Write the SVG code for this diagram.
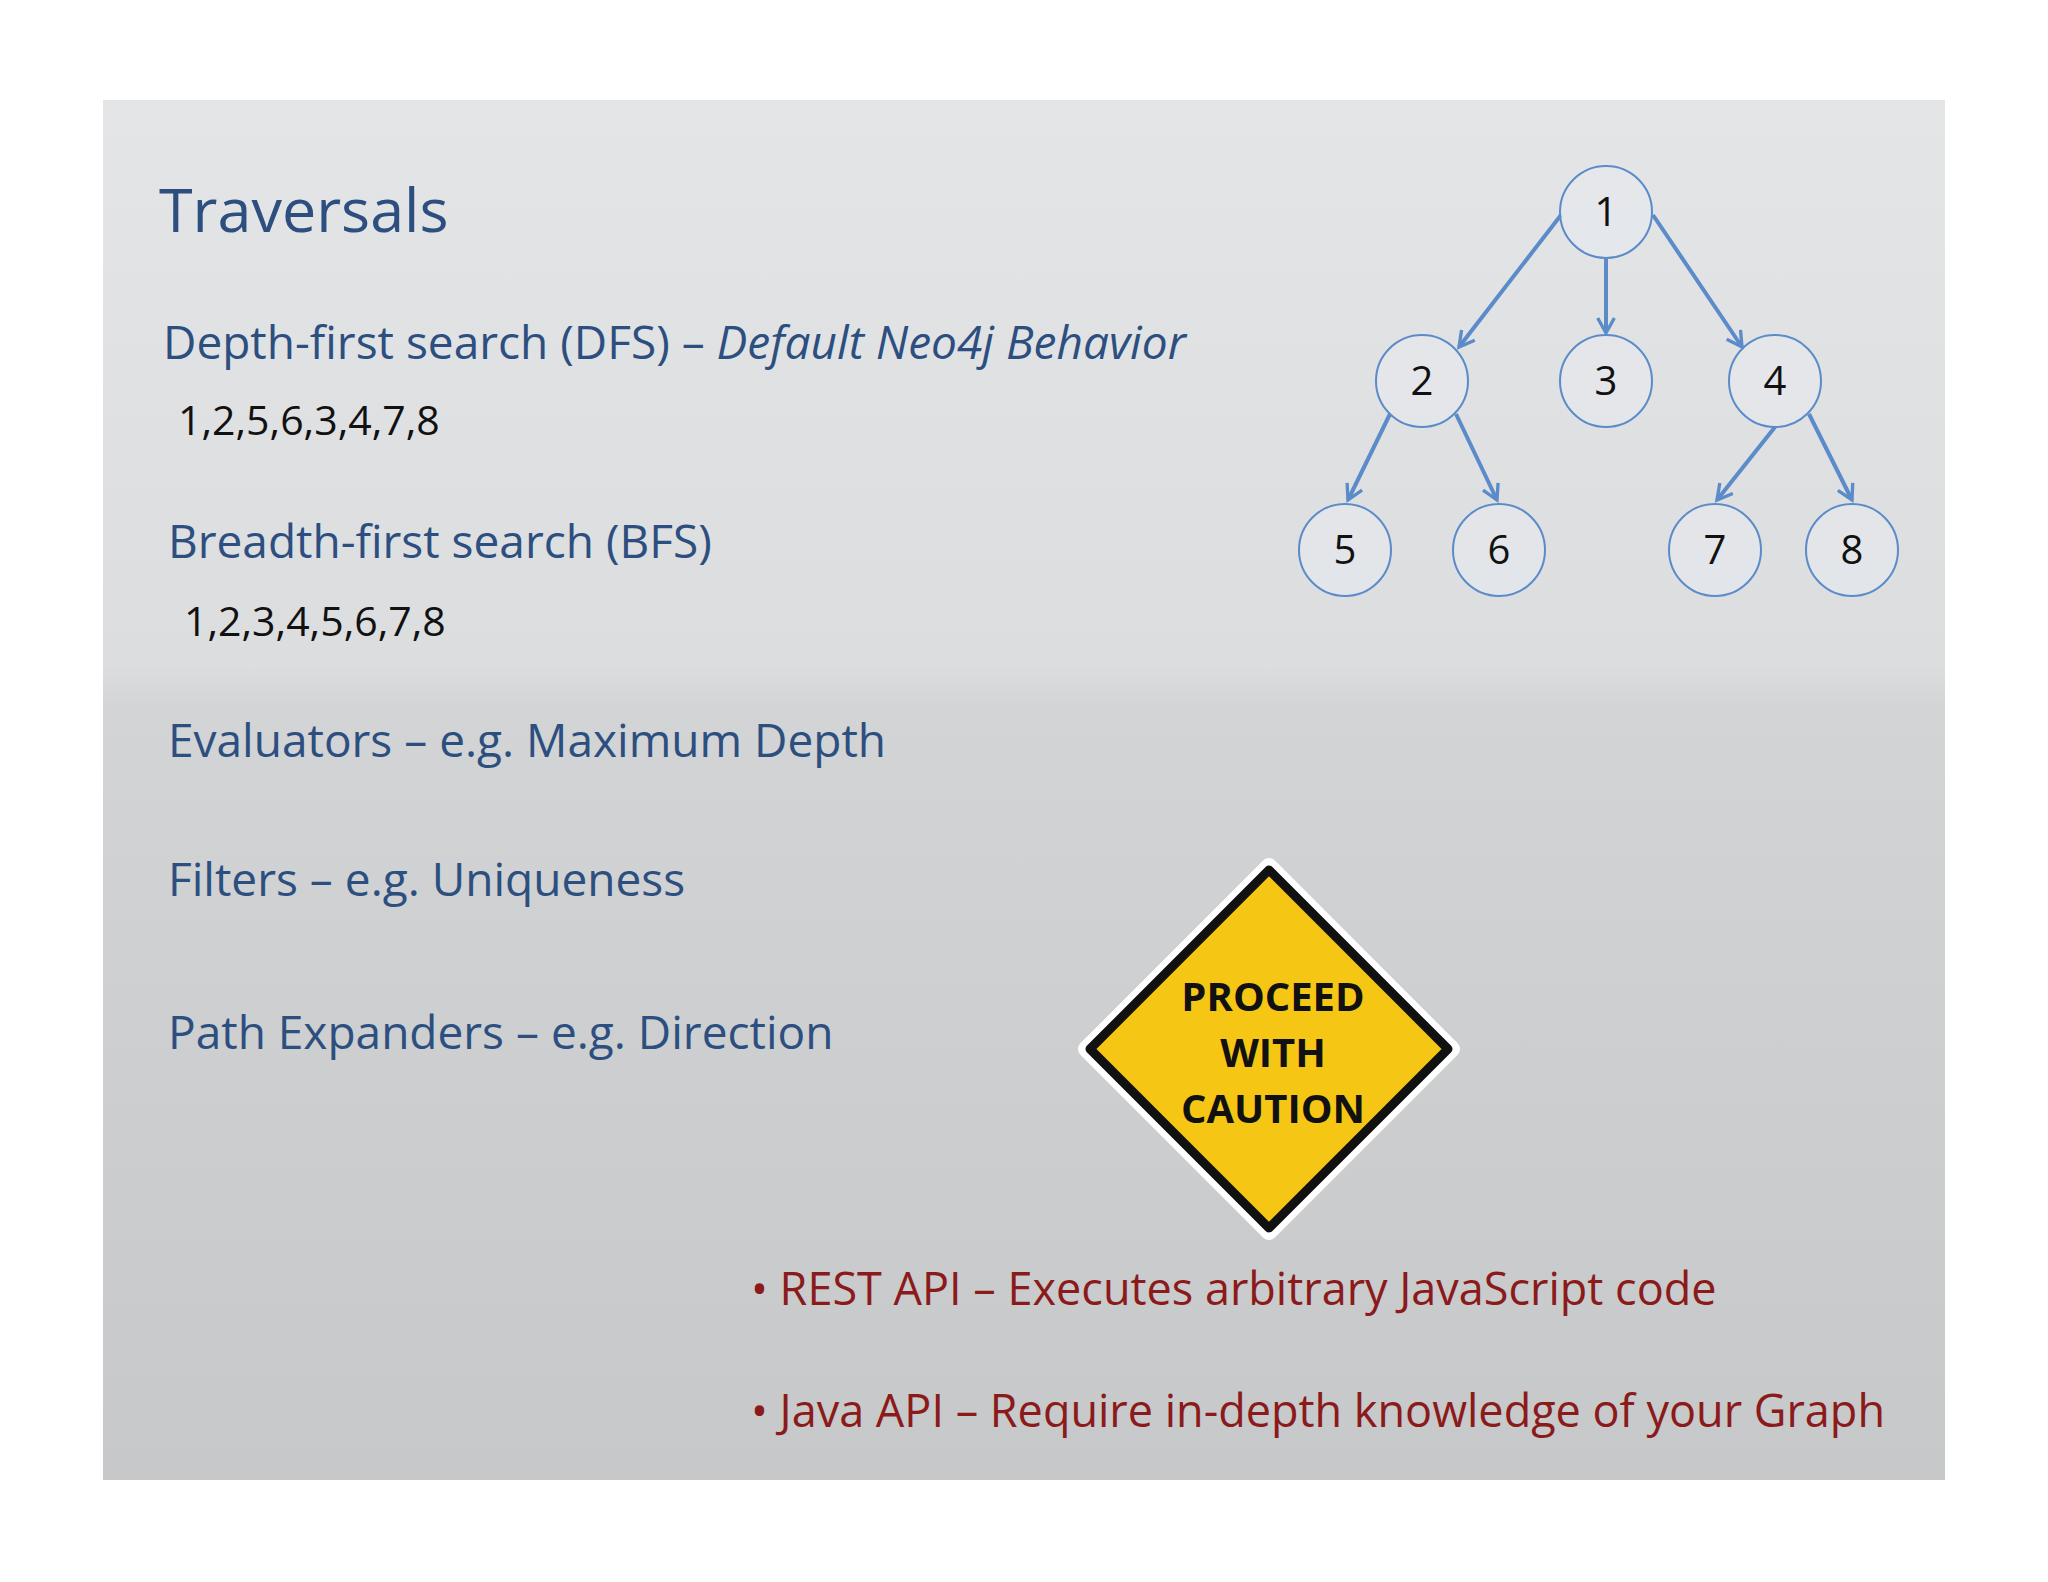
<svg xmlns="http://www.w3.org/2000/svg" width="2048" height="1582" viewBox="0 0 2048 1582">
<defs>
<linearGradient id="bg" x1="0" y1="0" x2="0" y2="1">
<stop offset="0" stop-color="#e4e5e7"/>
<stop offset="0.41" stop-color="#dcdddf"/>
<stop offset="0.44" stop-color="#d2d4d6"/>
<stop offset="0.75" stop-color="#cbcdcf"/>
<stop offset="1" stop-color="#c6c8ca"/>
</linearGradient>
<marker id="ah" viewBox="0 0 12 12" refX="10" refY="6" markerWidth="5" markerHeight="5" orient="auto" markerUnits="strokeWidth">
<path d="M1,1 L10,6 L1,11" fill="none" stroke="#5b8bc9" stroke-width="2"/>
</marker>
<style>
.t{font-family:"Open Sans","Liberation Sans",sans-serif;fill:#2c4f80;font-size:46px}
.k{font-family:"Open Sans","Liberation Sans",sans-serif;fill:#111;font-size:41px}
.r{font-family:"Open Sans","Liberation Sans",sans-serif;fill:#8b1a1a;font-size:45px}
.n circle{fill:#e6e9ee;fill-opacity:0.6;stroke:#5b8bc9;stroke-width:2}
.n text{font-family:"Open Sans","Liberation Sans",sans-serif;font-size:40px;fill:#111;text-anchor:middle}
.e line{stroke:#5b8bc9;stroke-width:4;marker-end:url(#ah)}
.s{font-family:"Open Sans","Liberation Sans",sans-serif;font-weight:bold;font-size:40px;fill:#111;text-anchor:middle}
</style>
</defs>
<rect width="2048" height="1582" fill="#fff"/>
<rect x="103" y="100" width="1842" height="1380" fill="url(#bg)"/>
<text x="159" y="232" class="t" style="font-size:61px">Traversals</text>
<text x="163" y="359" class="t">Depth-first search (DFS) – <tspan font-style="italic">Default Neo4j Behavior</tspan></text>
<text x="178" y="435" class="k">1,2,5,6,3,4,7,8</text>
<text x="168" y="558" class="t">Breadth-first search (BFS)</text>
<text x="184" y="636" class="k">1,2,3,4,5,6,7,8</text>
<text x="168" y="757" class="t">Evaluators – e.g. Maximum Depth</text>
<text x="168" y="896" class="t">Filters – e.g. Uniqueness</text>
<text x="168" y="1049" class="t">Path Expanders – e.g. Direction</text>
<g id="connectors" class="e">
<line x1="1561" y1="215" x2="1459" y2="347"/>
<line x1="1606" y1="258" x2="1606" y2="333"/>
<line x1="1653" y1="215" x2="1742" y2="347"/>
<line x1="1390" y1="414" x2="1348" y2="500"/>
<line x1="1456" y1="414" x2="1497" y2="500"/>
<line x1="1775" y1="427" x2="1717" y2="500"/>
<line x1="1809" y1="414" x2="1852" y2="500"/>
</g>
<g id="n1" class="n"><circle cx="1606" cy="212" r="46"/><text x="1606" y="226">1</text></g>
<g id="n2" class="n"><circle cx="1422" cy="381" r="46"/><text x="1422" y="395">2</text></g>
<g id="n3" class="n"><circle cx="1606" cy="381" r="46"/><text x="1606" y="395">3</text></g>
<g id="n4" class="n"><circle cx="1775" cy="381" r="46"/><text x="1775" y="395">4</text></g>
<g id="n5" class="n"><circle cx="1345" cy="550" r="46"/><text x="1345" y="564">5</text></g>
<g id="n6" class="n"><circle cx="1499" cy="550" r="46"/><text x="1499" y="564">6</text></g>
<g id="n7" class="n"><circle cx="1715" cy="550" r="46"/><text x="1715" y="564">7</text></g>
<g id="n8" class="n"><circle cx="1852" cy="550" r="46"/><text x="1852" y="564">8</text></g>
<g id="sign">
<path d="M1269,866 L1452,1049 L1269,1232 L1086,1049 Z" fill="#f3c200" stroke="#fff" stroke-width="16" stroke-linejoin="round"/>
<path d="M1269,870 L1448,1049 L1269,1228 L1090,1049 Z" fill="#f6c614" stroke="#111" stroke-width="9" stroke-linejoin="round"/>
<text x="1273" y="1011" class="s">PROCEED</text>
<text x="1273" y="1067" class="s">WITH</text>
<text x="1273" y="1123" class="s">CAUTION</text>
</g>
<text x="751" y="1305" class="r">• REST API – Executes arbitrary JavaScript code</text>
<text x="751" y="1427" class="r">• Java API – Require in-depth knowledge of your Graph</text>
</svg>
